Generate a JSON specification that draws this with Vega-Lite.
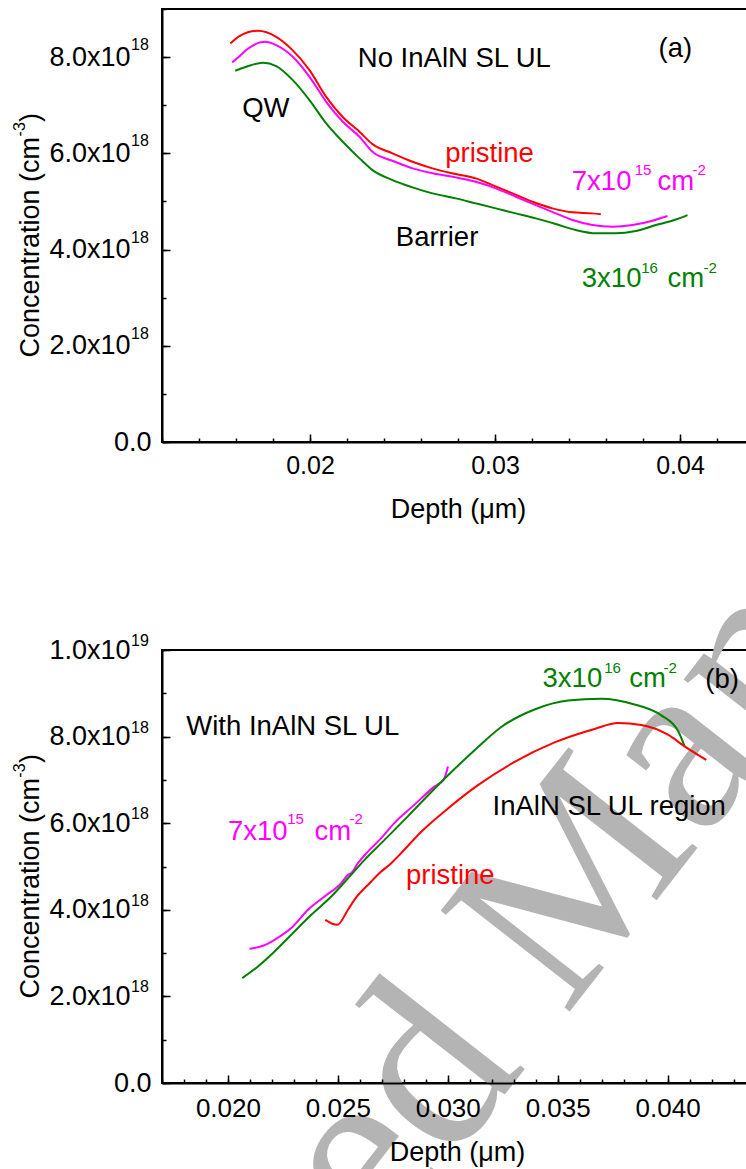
{
  "$schema": "https://vega.github.io/schema/vega-lite/v6.json",
  "autosize": {"type": "none"},
  "padding": {"left": 162, "top": 9, "right": 600, "bottom": 1200},
  "background": "white",
  "spacing": 208,
  "bounds": "flush",
  "config": {
    "font": "Liberation Sans",
    "view": {"stroke": "black", "strokeWidth": 2},
    "text": {"font": "Liberation Sans"},
    "axis": {
      "domainColor": "black", "domainWidth": 2, "tickColor": "black", "tickWidth": 1.5,
      "labelColor": "black", "titleColor": "black", "titleFontWeight": "normal",
      "labelFont": "Liberation Sans", "titleFont": "Liberation Sans", "grid": false,
      "labelFlush": false
    }
  },
  "datasets": {
    "top": [
      {"d":0.01570,"c":8.285e18,"s":"pristine"},{"d":0.016189,"c":8.437e18,"s":"pristine"},{"d":0.017178,"c":8.547e18,"s":"pristine"},{"d":0.018173,"c":8.422e18,"s":"pristine"},{"d":0.019054,"c":8.146e18,"s":"pristine"},{"d":0.019973,"c":7.730e18,"s":"pristine"},{"d":0.020876,"c":7.175e18,"s":"pristine"},{"d":0.021757,"c":6.760e18,"s":"pristine"},{"d":0.022676,"c":6.448e18,"s":"pristine"},{"d":0.023378,"c":6.192e18,"s":"pristine"},{"d":0.024459,"c":5.999e18,"s":"pristine"},{"d":0.025541,"c":5.825e18,"s":"pristine"},{"d":0.026622,"c":5.687e18,"s":"pristine"},{"d":0.027881,"c":5.569e18,"s":"pristine"},{"d":0.028962,"c":5.480e18,"s":"pristine"},{"d":0.029865,"c":5.340e18,"s":"pristine"},{"d":0.030946,"c":5.168e18,"s":"pristine"},{"d":0.032027,"c":4.993e18,"s":"pristine"},{"d":0.033108,"c":4.856e18,"s":"pristine"},{"d":0.034189,"c":4.773e18,"s":"pristine"},{"d":0.035270,"c":4.752e18,"s":"pristine"},{"d":0.035719,"c":4.732e18,"s":"pristine"},
      {"d":0.015795,"c":7.890e18,"s":"7e15"},{"d":0.016189,"c":8.02e18,"s":"7e15"},{"d":0.016551,"c":8.146e18,"s":"7e15"},{"d":0.017541,"c":8.318e18,"s":"7e15"},{"d":0.018173,"c":8.250e18,"s":"7e15"},{"d":0.019070,"c":8.007e18,"s":"7e15"},{"d":0.019973,"c":7.591e18,"s":"7e15"},{"d":0.020876,"c":7.071e18,"s":"7e15"},{"d":0.021773,"c":6.656e18,"s":"7e15"},{"d":0.022676,"c":6.344e18,"s":"7e15"},{"d":0.023378,"c":6.032e18,"s":"7e15"},{"d":0.024459,"c":5.845e18,"s":"7e15"},{"d":0.025541,"c":5.687e18,"s":"7e15"},{"d":0.026622,"c":5.584e18,"s":"7e15"},{"d":0.027881,"c":5.500e18,"s":"7e15"},{"d":0.028962,"c":5.409e18,"s":"7e15"},{"d":0.030043,"c":5.272e18,"s":"7e15"},{"d":0.031124,"c":5.097e18,"s":"7e15"},{"d":0.032205,"c":4.925e18,"s":"7e15"},{"d":0.033286,"c":4.752e18,"s":"7e15"},{"d":0.034189,"c":4.613e18,"s":"7e15"},{"d":0.035270,"c":4.509e18,"s":"7e15"},{"d":0.036351,"c":4.474e18,"s":"7e15"},{"d":0.037432,"c":4.509e18,"s":"7e15"},{"d":0.038514,"c":4.599e18,"s":"7e15"},{"d":0.039324,"c":4.696e18,"s":"7e15"},
      {"d":0.015957,"c":7.716e18,"s":"3e16"},{"d":0.016551,"c":7.799e18,"s":"3e16"},{"d":0.017449,"c":7.882e18,"s":"3e16"},{"d":0.018173,"c":7.813e18,"s":"3e16"},{"d":0.019070,"c":7.522e18,"s":"3e16"},{"d":0.019973,"c":7.107e18,"s":"3e16"},{"d":0.020876,"c":6.623e18,"s":"3e16"},{"d":0.021773,"c":6.240e18,"s":"3e16"},{"d":0.022676,"c":5.895e18,"s":"3e16"},{"d":0.023378,"c":5.652e18,"s":"3e16"},{"d":0.024459,"c":5.444e18,"s":"3e16"},{"d":0.025541,"c":5.293e18,"s":"3e16"},{"d":0.026622,"c":5.168e18,"s":"3e16"},{"d":0.027881,"c":5.064e18,"s":"3e16"},{"d":0.028962,"c":4.960e18,"s":"3e16"},{"d":0.030043,"c":4.856e18,"s":"3e16"},{"d":0.031124,"c":4.752e18,"s":"3e16"},{"d":0.032205,"c":4.648e18,"s":"3e16"},{"d":0.033286,"c":4.530e18,"s":"3e16"},{"d":0.034368,"c":4.405e18,"s":"3e16"},{"d":0.035449,"c":4.337e18,"s":"3e16"},{"d":0.036530,"c":4.337e18,"s":"3e16"},{"d":0.037611,"c":4.385e18,"s":"3e16"},{"d":0.038692,"c":4.509e18,"s":"3e16"},{"d":0.039686,"c":4.613e18,"s":"3e16"},{"d":0.040405,"c":4.717e18,"s":"3e16"}
    ],
    "bottom": [
      {"d":0.020983,"c":3.100e18,"s":"7e15"},{"d":0.021592,"c":3.169e18,"s":"7e15"},{"d":0.022120,"c":3.307e18,"s":"7e15"},{"d":0.022880,"c":3.577e18,"s":"7e15"},{"d":0.023640,"c":4.000e18,"s":"7e15"},{"d":0.024395,"c":4.307e18,"s":"7e15"},{"d":0.025155,"c":4.616e18,"s":"7e15"},{"d":0.025460,"c":4.807e18,"s":"7e15"},{"d":0.025610,"c":4.847e18,"s":"7e15"},{"d":0.025915,"c":5.077e18,"s":"7e15"},{"d":0.026369,"c":5.345e18,"s":"7e15"},{"d":0.026975,"c":5.654e18,"s":"7e15"},{"d":0.027567,"c":6.001e18,"s":"7e15"},{"d":0.028477,"c":6.423e18,"s":"7e15"},{"d":0.029387,"c":6.845e18,"s":"7e15"},{"d":0.029828,"c":7.016e18,"s":"7e15"},{"d":0.030010,"c":7.307e18,"s":"7e15"},
      {"d":0.020650,"c":2.423e18,"s":"3e16"},{"d":0.021365,"c":2.691e18,"s":"3e16"},{"d":0.022120,"c":3.037e18,"s":"3e16"},{"d":0.022880,"c":3.423e18,"s":"3e16"},{"d":0.023790,"c":3.884e18,"s":"3e16"},{"d":0.024700,"c":4.307e18,"s":"3e16"},{"d":0.025532,"c":4.768e18,"s":"3e16"},{"d":0.026215,"c":5.154e18,"s":"3e16"},{"d":0.026975,"c":5.539e18,"s":"3e16"},{"d":0.027430,"c":5.770e18,"s":"3e16"},{"d":0.028172,"c":6.153e18,"s":"3e16"},{"d":0.029828,"c":7.016e18,"s":"3e16"},{"d":0.031219,"c":7.685e18,"s":"3e16"},{"d":0.032434,"c":8.223e18,"s":"3e16"},{"d":0.033949,"c":8.627e18,"s":"3e16"},{"d":0.035469,"c":8.832e18,"s":"3e16"},{"d":0.036984,"c":8.876e18,"s":"3e16"},{"d":0.038499,"c":8.742e18,"s":"3e16"},{"d":0.039713,"c":8.491e18,"s":"3e16"},{"d":0.040473,"c":8.133e18,"s":"3e16"},{"d":0.040774,"c":7.775e18,"s":"3e16"},
      {"d":0.024427,"c":3.769e18,"s":"pristine"},{"d":0.024973,"c":3.653e18,"s":"pristine"},{"d":0.025460,"c":4.000e18,"s":"pristine"},{"d":0.025760,"c":4.235e18,"s":"pristine"},{"d":0.026520,"c":4.653e18,"s":"pristine"},{"d":0.026825,"c":4.817e18,"s":"pristine"},{"d":0.027430,"c":5.077e18,"s":"pristine"},{"d":0.027885,"c":5.311e18,"s":"pristine"},{"d":0.028794,"c":5.802e18,"s":"pristine"},{"d":0.030009,"c":6.340e18,"s":"pristine"},{"d":0.031374,"c":6.878e18,"s":"pristine"},{"d":0.033039,"c":7.415e18,"s":"pristine"},{"d":0.034859,"c":7.865e18,"s":"pristine"},{"d":0.036679,"c":8.177e18,"s":"pristine"},{"d":0.037744,"c":8.313e18,"s":"pristine"},{"d":0.038804,"c":8.267e18,"s":"pristine"},{"d":0.040018,"c":8.043e18,"s":"pristine"},{"d":0.040774,"c":7.775e18,"s":"pristine"},{"d":0.041761,"c":7.461e18,"s":"pristine"}
    ],
    "topNotes": [
      {"d":0.022584,"c":7.80e18,"t":"No InAlN SL UL","s":"note","k":"m"},
      {"d":0.038838,"c":8.01e18,"t":"(a)","s":"note","k":"m"},
      {"d":0.016335,"c":6.75e18,"t":"QW","s":"note","k":"m"},
      {"d":0.024638,"c":4.07e18,"t":"Barrier","s":"note","k":"m"},
      {"d":0.027308,"c":5.81e18,"t":"pristine","s":"pristine","k":"m"},
      {"d":0.034151,"c":5.24e18,"t":"7x10","s":"7e15","k":"m"},
      {"d":0.037550,"c":5.55e18,"t":"15","s":"7e15","k":"s"},
      {"d":0.038784,"c":5.24e18,"t":"cm","s":"7e15","k":"m"},
      {"d":0.040676,"c":5.55e18,"t":"-2","s":"7e15","k":"s"},
      {"d":0.034692,"c":3.23e18,"t":"3x10","s":"3e16","k":"m"},
      {"d":0.037900,"c":3.51e18,"t":"16","s":"3e16","k":"s"},
      {"d":0.039324,"c":3.23e18,"t":"cm","s":"3e16","k":"m"},
      {"d":0.041270,"c":3.51e18,"t":"-2","s":"3e16","k":"s"}
    ],
    "bottomNotes": [
      {"d":0.018103,"c":8.04e18,"t":"With InAlN SL UL","s":"note","k":"m"},
      {"d":0.041715,"c":9.12e18,"t":"(b)","s":"note","k":"m"},
      {"d":0.034313,"c":9.15e18,"t":"3x10","s":"3e16","k":"m"},
      {"d":0.037120,"c":9.46e18,"t":"16","s":"3e16","k":"s"},
      {"d":0.038257,"c":9.15e18,"t":"cm","s":"3e16","k":"m"},
      {"d":0.039818,"c":9.46e18,"t":"-2","s":"3e16","k":"s"},
      {"d":0.032038,"c":6.19e18,"t":"InAlN SL UL region","s":"note","k":"m"},
      {"d":0.020000,"c":5.62e18,"t":"7x10","s":"7e15","k":"m"},
      {"d":0.022698,"c":5.98e18,"t":"15","s":"7e15","k":"s"},
      {"d":0.023940,"c":5.62e18,"t":"cm","s":"7e15","k":"m"},
      {"d":0.025532,"c":5.98e18,"t":"-2","s":"7e15","k":"s"},
      {"d":0.028098,"c":4.60e18,"t":"pristine","s":"pristine","k":"m"}
    ],
    "topTicks": [{"v":2e18,"e":"18"},{"v":4e18,"e":"18"},{"v":6e18,"e":"18"},{"v":8e18,"e":"18"}],
    "bottomTicks": [{"v":2e18,"e":"18"},{"v":4e18,"e":"18"},{"v":6e18,"e":"18"},{"v":8e18,"e":"18"},{"v":1e19,"e":"19"}],
    "topTitleSup": [{"d":0.0045946,"c":6.352e18,"t":"-3"}],
    "bottomTitleSup": [{"d":0.010767,"c":7.051e18,"t":"-3"}],
    "wm": [{"d":0.037199,"c":2.725e18,"t":"Accepted Manuscript"}]
  },
  "vconcat": [
    {
      "width": 592, "height": 433,
      "resolve": {"axis": {"x": "independent", "y": "independent"}},
      "layer": [
        {
          "data": {"name": "top"},
          "mark": {"type": "line", "strokeWidth": 2, "interpolate": "monotone"},
          "encoding": {
            "x": {"field": "d", "type": "quantitative",
              "scale": {"domain": [0.012, 0.044], "nice": false, "zero": false},
              "axis": {
                "orient": "bottom", "values": [0.02, 0.03, 0.04], "format": ".2f",
                "tickSize": -8, "labelPadding": 19, "labelFontSize": 25, "labelOverlap": false, "labelFlush": false, "zindex": 1,
                "title": "Depth (μm)", "titleFontSize": 27, "titleX": 296, "titleY": 75,
                "titleBaseline": "alphabetic", "titleAlign": "center"
              }},
            "y": {"field": "c", "type": "quantitative",
              "scale": {"domain": [0, 9e18], "nice": false},
              "axis": {
                "orient": "left", "values": [0, 2e18, 4e18, 6e18, 8e18],
                "labelExpr": "datum.value == 0 ? '0.0' : format(datum.value/1e18, '.1f') + 'x10'",
                "tickSize": -8,
                "labelPadding": {"condition": {"test": "datum.value == 0", "value": 19}, "value": 40},
                "labelFontSize": 27, "labelOverlap": false, "zindex": 1,
                "title": "Concentration (cm\u00a0\u00a0)", "titleFontSize": 27, "titleAngle": -90,
                "titleX": -124, "titleY": 348, "titleAlign": "left", "titleBaseline": "alphabetic"
              }},
            "color": {"field": "s", "type": "nominal",
              "scale": {"domain": ["pristine", "7e15", "3e16", "note"], "range": ["#ff0000", "#ff00ff", "#008000", "#000000"]},
              "legend": null}
          }
        },
        {
          "data": {"name": "topNotes"},
          "transform": [{"filter": "datum.k == 'm'"}],
          "mark": {"type": "text", "align": "left", "baseline": "alphabetic", "fontSize": 27.5},
          "encoding": {
            "x": {"field": "d", "type": "quantitative",
              "axis": {"orient": "bottom", "values": [0.012,0.014,0.016,0.018,0.02,0.022,0.024,0.026,0.028,0.03,0.032,0.034,0.036,0.038,0.04,0.042,0.044],
                "labels": false, "domain": false, "tickSize": -4, "title": null, "zindex": 1}},
            "y": {"field": "c", "type": "quantitative",
              "axis": {"orient": "left", "values": [0,1e18,2e18,3e18,4e18,5e18,6e18,7e18,8e18,9e18],
                "labels": false, "domain": false, "tickSize": -4, "title": null, "zindex": 1}},
            "text": {"field": "t"},
            "color": {"field": "s", "type": "nominal", "scale": {"domain": ["pristine", "7e15", "3e16", "note"], "range": ["#ff0000", "#ff00ff", "#008000", "#000000"]}, "legend": null}
          }
        },
        {
          "data": {"name": "topNotes"},
          "transform": [{"filter": "datum.k == 's'"}],
          "mark": {"type": "text", "align": "left", "baseline": "alphabetic", "fontSize": 15},
          "encoding": {
            "x": {"field": "d", "type": "quantitative", "axis": null},
            "y": {"field": "c", "type": "quantitative", "axis": null},
            "text": {"field": "t"},
            "color": {"field": "s", "type": "nominal", "scale": {"domain": ["pristine", "7e15", "3e16", "note"], "range": ["#ff0000", "#ff00ff", "#008000", "#000000"]}, "legend": null}
          }
        },
        {
          "data": {"name": "topTicks"},
          "mark": {"type": "text", "align": "left", "baseline": "alphabetic", "fontSize": 16, "dx": -31, "dy": -7, "color": "black"},
          "encoding": {
            "x": {"datum": 0.012, "type": "quantitative", "axis": null},
            "y": {"field": "v", "type": "quantitative", "axis": null},
            "text": {"field": "e"}
          }
        },
        {
          "data": {"name": "topTitleSup"},
          "mark": {"type": "text", "align": "left", "baseline": "alphabetic", "fontSize": 16, "angle": -90, "color": "black"},
          "encoding": {
            "x": {"field": "d", "type": "quantitative", "axis": null},
            "y": {"field": "c", "type": "quantitative", "axis": null},
            "text": {"field": "t"}
          }
        }
      ]
    },
    {
      "width": 593.5, "height": 433,
      "resolve": {"axis": {"x": "independent", "y": "independent"}},
      "layer": [
        {
          "data": {"name": "wm"},
          "mark": {"type": "text", "font": "Liberation Serif", "fontSize": 250, "angle": -52, "align": "center", "baseline": "alphabetic", "color": "#b4b4b4"},
          "encoding": {
            "x": {"field": "d", "type": "quantitative", "axis": null},
            "y": {"field": "c", "type": "quantitative", "axis": null},
            "text": {"field": "t"}
          }
        },
        {
          "data": {"name": "bottom"},
          "mark": {"type": "line", "strokeWidth": 2, "interpolate": "monotone"},
          "encoding": {
            "x": {"field": "d", "type": "quantitative",
              "scale": {"domain": [0.017, 0.044], "nice": false, "zero": false},
              "axis": {
                "orient": "bottom", "values": [0.02, 0.025, 0.03, 0.035, 0.04], "format": ".3f",
                "tickSize": -8, "labelPadding": 20, "labelFontSize": 26, "labelOverlap": false, "labelFlush": false, "zindex": 1,
                "title": "Depth (μm)", "titleFontSize": 27, "titleX": 295, "titleY": 77,
                "titleBaseline": "alphabetic", "titleAlign": "center"
              }},
            "y": {"field": "c", "type": "quantitative",
              "scale": {"domain": [0, 1e19], "nice": false},
              "axis": {
                "orient": "left", "values": [0, 2e18, 4e18, 6e18, 8e18, 1e19],
                "labelExpr": "datum.value == 0 ? '0.0' : (datum.value > 9.9e18 ? '1.0x10' : format(datum.value/1e18, '.1f') + 'x10')",
                "tickSize": -8,
                "labelPadding": {"condition": {"test": "datum.value == 0", "value": 19}, "value": 40},
                "labelFontSize": 27, "labelOverlap": false, "zindex": 1,
                "title": "Concentration (cm\u00a0\u00a0)", "titleFontSize": 27, "titleAngle": -90,
                "titleX": -124, "titleY": 348, "titleAlign": "left", "titleBaseline": "alphabetic"
              }},
            "color": {"field": "s", "type": "nominal",
              "scale": {"domain": ["pristine", "7e15", "3e16", "note"], "range": ["#ff0000", "#ff00ff", "#008000", "#000000"]},
              "legend": null}
          }
        },
        {
          "data": {"name": "bottomNotes"},
          "transform": [{"filter": "datum.k == 'm'"}],
          "mark": {"type": "text", "align": "left", "baseline": "alphabetic", "fontSize": 27.5},
          "encoding": {
            "x": {"field": "d", "type": "quantitative",
              "axis": {"orient": "bottom", "values": [0.017,0.018,0.019,0.02,0.021,0.022,0.023,0.024,0.025,0.026,0.027,0.028,0.029,0.03,0.031,0.032,0.033,0.034,0.035,0.036,0.037,0.038,0.039,0.04,0.041,0.042,0.043,0.044],
                "labels": false, "domain": false, "tickSize": -4, "title": null, "zindex": 1}},
            "y": {"field": "c", "type": "quantitative",
              "axis": {"orient": "left", "values": [0,1e18,2e18,3e18,4e18,5e18,6e18,7e18,8e18,9e18,1e19],
                "labels": false, "domain": false, "tickSize": -4, "title": null, "zindex": 1}},
            "text": {"field": "t"},
            "color": {"field": "s", "type": "nominal", "scale": {"domain": ["pristine", "7e15", "3e16", "note"], "range": ["#ff0000", "#ff00ff", "#008000", "#000000"]}, "legend": null}
          }
        },
        {
          "data": {"name": "bottomNotes"},
          "transform": [{"filter": "datum.k == 's'"}],
          "mark": {"type": "text", "align": "left", "baseline": "alphabetic", "fontSize": 15},
          "encoding": {
            "x": {"field": "d", "type": "quantitative", "axis": null},
            "y": {"field": "c", "type": "quantitative", "axis": null},
            "text": {"field": "t"},
            "color": {"field": "s", "type": "nominal", "scale": {"domain": ["pristine", "7e15", "3e16", "note"], "range": ["#ff0000", "#ff00ff", "#008000", "#000000"]}, "legend": null}
          }
        },
        {
          "data": {"name": "bottomTicks"},
          "mark": {"type": "text", "align": "left", "baseline": "alphabetic", "fontSize": 16, "dx": -31, "dy": -4, "color": "black"},
          "encoding": {
            "x": {"datum": 0.017, "type": "quantitative", "axis": null},
            "y": {"field": "v", "type": "quantitative", "axis": null},
            "text": {"field": "e"}
          }
        },
        {
          "data": {"name": "bottomTitleSup"},
          "mark": {"type": "text", "align": "left", "baseline": "alphabetic", "fontSize": 16, "angle": -90, "color": "black"},
          "encoding": {
            "x": {"field": "d", "type": "quantitative", "axis": null},
            "y": {"field": "c", "type": "quantitative", "axis": null},
            "text": {"field": "t"}
          }
        }
      ]
    }
  ]
}
